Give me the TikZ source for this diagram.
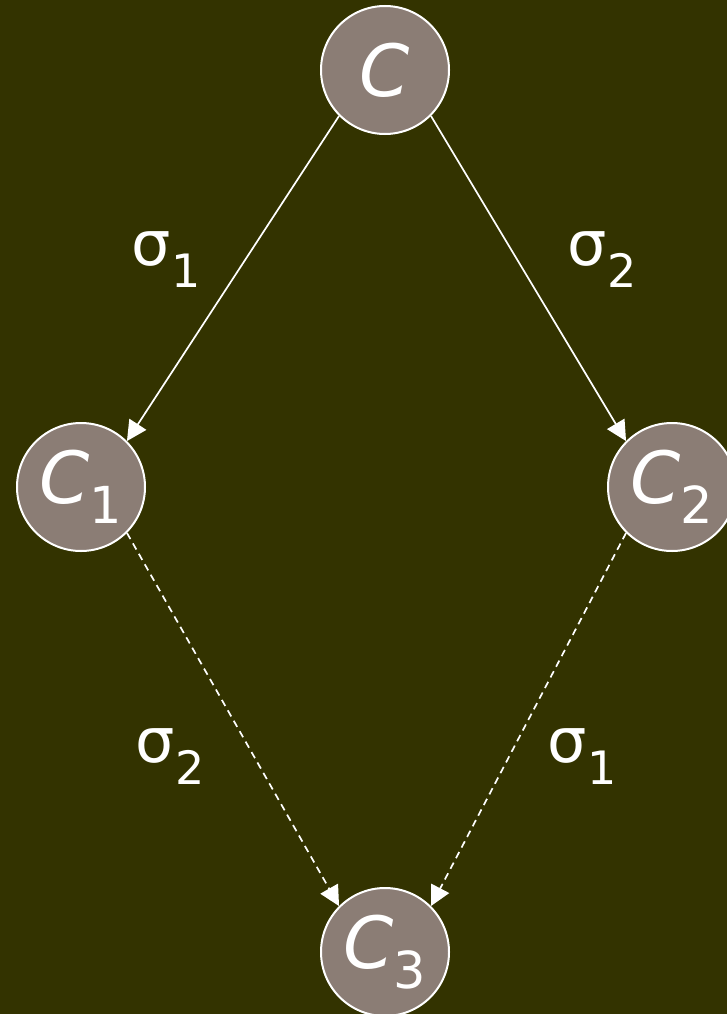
\documentclass[tikz,border=0pt]{standalone}
\usepackage{fontspec}
\setmainfont{DejaVu Sans}
\usetikzlibrary{arrows.meta}
\definecolor{bgolive}{RGB}{51,51,0}
\definecolor{nodegrey}{RGB}{139,125,117}
\newcommand{\cname}[1]{{\fontsize{72}{72}\selectfont\itshape C}\ifx&#1&\else\raisebox{-20pt}{\fontsize{51}{51}\selectfont #1}\fi}
\newcommand{\slabel}[1]{{\fontsize{62}{62}\selectfont σ}\raisebox{-22pt}{\fontsize{46}{46}\selectfont #1}}
\begin{document}
\begin{tikzpicture}[x=1pt,y=-1pt,
  state/.style={circle,draw=white,line width=2pt,fill=nodegrey,minimum size=128pt,inner sep=0pt,text=white},
  lab/.style={text=white,inner sep=0pt,anchor=center},
  conn/.style={draw=white,line width=1.7pt,-{Triangle[length=20pt,width=20pt]}},
  dconn/.style={conn,dash pattern=on 7pt off 5pt}]
\fill[bgolive] (0,0) rectangle (727,1014);
\useasboundingbox (0,0) rectangle (727,1014);
\node[state] (c) at (385,70) {\cname{}};
\node[state] (c1) at (81,487) {\cname{1}};
\node[state] (c2) at (672,487) {\cname{2}};
\node[state] (c3) at (385,952) {\cname{3}};
\draw[conn] (c.225) -- (c1.45);
\draw[conn] (c.315) -- (c2.135);
\draw[dconn] (c1.315) -- (c3.135);
\draw[dconn] (c2.225) -- (c3.45);
\node[lab] (l1) at (166,260) {\slabel{1}};
\node[lab] (l2) at (602,260) {\slabel{2}};
\node[lab] (l3) at (170,757) {\slabel{2}};
\node[lab] (l4) at (582,757) {\slabel{1}};
\end{tikzpicture}
\end{document}
